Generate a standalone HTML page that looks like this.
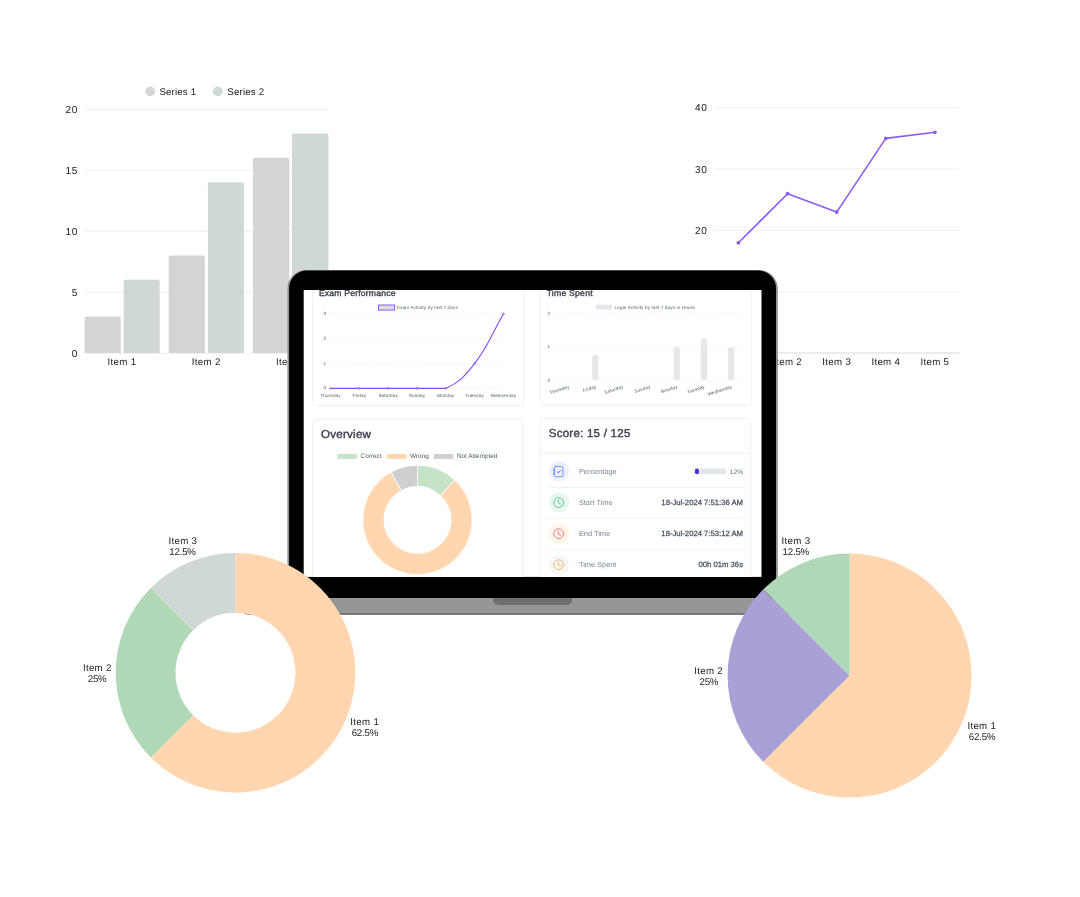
<!DOCTYPE html>
<html lang="en">
<head>
<meta charset="utf-8">
<title>Exam Dashboard Charts</title>
<style>
  html, body { margin: 0; padding: 0; background: #ffffff; }
  body { width: 1080px; height: 897px; overflow: hidden; position: relative; }
  svg { position: absolute; left: 0; top: 0; display: block; }
  text { font-family: "Liberation Sans", sans-serif; text-rendering: geometricPrecision; }
  .ax { font-size: 10.1px; fill: #1a1a1a; letter-spacing: 0.6px; }
  .lg { font-size: 9.7px; fill: #1a1a1a; letter-spacing: 0.17px; }
  .pl { font-size: 9.7px; fill: #1a1a1a; text-anchor: middle; letter-spacing: 0.32px; }
  .t5 { font-size: 4.55px; fill: #4b5566; letter-spacing: 0.17px; }
  .xl { font-size: 9.7px; fill: #1a1a1a; letter-spacing: 0.32px; }
  .pp { font-size: 9.7px; letter-spacing: -0.2px; }
  .t6 { font-size: 6.4px; fill: #4f5e5f; }
  .rl { font-size: 7.4px; fill: #7b8794; }
  .rv { font-size: 7.7px; fill: #4a5565; stroke: #4a5565; stroke-width: 0.28px; text-anchor: end; }
</style>
</head>
<body>
<svg width="1080" height="897" viewBox="0 0 1080 897">
  <defs>
    <clipPath id="scr"><rect x="303.7" y="290" width="457.8" height="286.9"/></clipPath>
  </defs>

  <!-- ================= BAR CHART (top-left) ================= -->
  <g id="barchart">
    <circle cx="150.15" cy="91.4" r="4.85" fill="#d4d4d4"/>
    <text class="lg" x="159.4" y="95">Series 1</text>
    <circle cx="217.8" cy="91.4" r="4.85" fill="#cfd8d7"/>
    <text class="lg" x="227.3" y="95">Series 2</text>

    <g stroke="#eeeeee" stroke-width="1">
      <line x1="85" x2="329" y1="109.2" y2="109.2"/>
      <line x1="85" x2="329" y1="170.2" y2="170.2"/>
      <line x1="85" x2="329" y1="231.2" y2="231.2"/>
      <line x1="85" x2="329" y1="292.2" y2="292.2"/>
      <line x1="85" x2="329" y1="353.2" y2="353.2"/>
    </g>
    <g class="ax" text-anchor="end">
      <text x="78" y="113.2">20</text>
      <text x="78" y="174.2">15</text>
      <text x="78" y="235.2">10</text>
      <text x="78" y="296.2">5</text>
      <text x="78" y="357.2">0</text>
    </g>
    <g fill="#d4d4d4">
      <path d="M84.7 353V318.4a2 2 0 0 1 2-2h32a2 2 0 0 1 2 2V353z"/>
      <path d="M168.8 353V257.4a2 2 0 0 1 2-2h32a2 2 0 0 1 2 2V353z"/>
      <path d="M253 353V159.8a2 2 0 0 1 2-2h32.3a2 2 0 0 1 2 2V353z"/>
    </g>
    <g fill="#cfd8d7">
      <path d="M123.7 353V281.8a2 2 0 0 1 2-2h32a2 2 0 0 1 2 2V353z"/>
      <path d="M207.9 353V184.2a2 2 0 0 1 2-2h32a2 2 0 0 1 2 2V353z"/>
      <path d="M292 353V135.4a2 2 0 0 1 2-2h32.4a2 2 0 0 1 2 2V353z"/>
    </g>
    <g class="xl" text-anchor="middle">
      <text x="122" y="365.2">Item 1</text>
      <text x="206.2" y="365.2">Item 2</text>
      <text x="290.5" y="365.2">Item 3</text>
    </g>
  </g>

  <!-- ================= LINE CHART (top-right) ================= -->
  <g id="linechart">
    <g stroke="#eeeeee" stroke-width="1">
      <line x1="714.3" x2="959.5" y1="107.7" y2="107.7"/>
      <line x1="714.3" x2="959.5" y1="169.1" y2="169.1"/>
      <line x1="714.3" x2="959.5" y1="230.5" y2="230.5"/>
      <line x1="714.3" x2="959.5" y1="291.9" y2="291.9"/>
    </g>
    <line x1="714.3" x2="959.5" y1="353" y2="353" stroke="#d9d9d9" stroke-width="1"/>
    <g class="ax" text-anchor="end">
      <text x="707.5" y="111.3">40</text>
      <text x="707.5" y="172.9">30</text>
      <text x="707.5" y="234.3">20</text>
      <text x="707.5" y="295.7">10</text>
      <text x="707.5" y="357">0</text>
    </g>
    <polyline points="738.4,242.8 787.6,193.7 836.7,212.1 885.8,138.4 934.9,132.3" fill="none" stroke="#8b5cf6" stroke-width="1.6" stroke-linejoin="round" stroke-linecap="round"/>
    <g fill="#8b5cf6">
      <circle cx="738.4" cy="242.8" r="1.9"/>
      <circle cx="787.6" cy="193.7" r="1.9"/>
      <circle cx="836.7" cy="212.1" r="1.9"/>
      <circle cx="885.8" cy="138.4" r="1.9"/>
      <circle cx="934.9" cy="132.3" r="1.9"/>
    </g>
    <g class="xl" text-anchor="middle">
      <text x="738.4" y="365.2">Item 1</text>
      <text x="787.6" y="365.2">Item 2</text>
      <text x="836.7" y="365.2">Item 3</text>
      <text x="885.8" y="365.2">Item 4</text>
      <text x="934.9" y="365.2">Item 5</text>
    </g>
  </g>

  <!-- ================= LAPTOP ================= -->
  <g id="laptop">
    <!-- base -->
    <rect x="244" y="597" width="577" height="17.8" fill="#969696"/>
    <rect x="244" y="613" width="577" height="1.8" fill="#767676"/>
    <path d="M493 597h79v3a5 5 0 0 1-5 5h-69a5 5 0 0 1-5-5z" fill="#6e6e6e"/>
    <!-- lid -->
    <path d="M287.4 598.1V288.6a18.5 18.5 0 0 1 18.5-18.5H759.3a18.5 18.5 0 0 1 18.5 18.5V598.1z" fill="#909090"/>
    <path d="M289.1 598.1V288.4a17.9 17.9 0 0 1 17.9-17.9H758.1a17.9 17.9 0 0 1 17.9 17.9V598.1z" fill="#000000"/>
    <rect x="303.7" y="290" width="457.8" height="286.9" fill="#ffffff"/>
    <g id="screen" clip-path="url(#scr)">
      <!-- card 1: Exam Performance -->
      <rect x="312.6" y="270" width="211" height="135.6" rx="3" fill="#ffffff" stroke="#ececef" stroke-width="0.8"/>
      <text x="318.9" y="296" font-size="8.6" letter-spacing="0.2" fill="#3f4254" stroke="#3f4254" stroke-width="0.36">Exam Performance</text>
      <rect x="378.5" y="305" width="16.2" height="5.1" fill="#dddddd" stroke="#7c4dff" stroke-width="0.9"/>
      <text class="t5" x="397" y="308.8">Exam Activity by last 7 days</text>
      <g stroke="#e4e6eb" stroke-width="0.6" stroke-dasharray="1.6 2.2">
        <line x1="327.5" x2="504.2" y1="313.9" y2="313.9"/>
        <line x1="327.5" x2="504.2" y1="338.75" y2="338.75"/>
        <line x1="327.5" x2="504.2" y1="363.6" y2="363.6"/>
        <line x1="327.5" x2="504.2" y1="388.4" y2="388.4"/>
      </g>
      <g class="t5" text-anchor="end">
        <text x="326.3" y="314.9">3</text>
        <text x="326.3" y="339.7">2</text>
        <text x="326.3" y="364.6">1</text>
        <text x="326.3" y="389.4">0</text>
      </g>
      <path d="M330.6 388.4H445.8C458.9 382.8 465.4 375.4 474.6 363.6C488.5 345.7 491.9 333.7 503.5 313.8" fill="none" stroke="#7c4dff" stroke-width="1.1" stroke-linecap="round"/>
      <g fill="#bfaaff" stroke="#7c4dff" stroke-width="0.6">
        <circle cx="330.6" cy="388.4" r="0.9"/><circle cx="359.4" cy="388.4" r="0.9"/><circle cx="388.2" cy="388.4" r="0.9"/>
        <circle cx="417" cy="388.4" r="0.9"/><circle cx="445.8" cy="388.4" r="0.9"/><circle cx="474.6" cy="363.6" r="0.9"/><circle cx="503.5" cy="313.8" r="0.9"/>
      </g>
      <g class="t5" text-anchor="middle">
        <text x="330.6" y="396.9">Thursday</text>
        <text x="359.4" y="396.9">Friday</text>
        <text x="388.2" y="396.9">Saturday</text>
        <text x="417" y="396.9">Sunday</text>
        <text x="445.8" y="396.9">Monday</text>
        <text x="474.6" y="396.9">Tuesday</text>
        <text x="503.5" y="396.9">Wednesday</text>
      </g>

      <!-- card 2: Time Spent -->
      <rect x="540.6" y="270" width="210.3" height="135.3" rx="3" fill="#ffffff" stroke="#ececef" stroke-width="0.8"/>
      <text x="546.7" y="295.8" font-size="8.7" letter-spacing="0.2" fill="#3f4254" stroke="#3f4254" stroke-width="0.36">Time Spent</text>
      <rect x="596" y="304.6" width="16" height="4.8" fill="#e5e7eb"/>
      <text class="t5" x="614.6" y="308.6">Login Activity by last 7 days in Hours</text>
      <g stroke="#e4e6eb" stroke-width="0.6" stroke-dasharray="1.6 2.2">
        <line x1="552.4" x2="745.6" y1="313.7" y2="313.7"/>
        <line x1="552.4" x2="745.6" y1="347" y2="347"/>
        <line x1="552.4" x2="745.6" y1="380.3" y2="380.3"/>
      </g>
      <g class="t5" text-anchor="end">
        <text x="550.3" y="315">2</text>
        <text x="550.3" y="348.4">1</text>
        <text x="550.3" y="381.7">0</text>
      </g>
      <g fill="#e5e7eb">
        <rect x="592.1" y="355.1" width="6.5" height="24.9" rx="3.25"/>
        <rect x="673.5" y="346.9" width="6.5" height="33.1" rx="3.25"/>
        <rect x="700.7" y="338.6" width="6.5" height="41.4" rx="3.25"/>
        <rect x="727.9" y="346.9" width="6.5" height="33.1" rx="3.25"/>
      </g>
      <g class="t5" text-anchor="end">
        <text transform="translate(569.5 387.9) rotate(-18)">Thursday</text>
        <text transform="translate(596.6 387.9) rotate(-18)">Friday</text>
        <text transform="translate(623.7 387.9) rotate(-18)">Saturday</text>
        <text transform="translate(650.8 387.9) rotate(-18)">Sunday</text>
        <text transform="translate(678 387.9) rotate(-18)">Monday</text>
        <text transform="translate(705.2 387.9) rotate(-18)">Tuesday</text>
        <text transform="translate(732.4 387.9) rotate(-18)">Wednesday</text>
      </g>

      <!-- card 3: Overview -->
      <rect x="312.6" y="419.4" width="210.6" height="180" rx="3" fill="#ffffff" stroke="#ececef" stroke-width="0.8"/>
      <text x="320.9" y="437.7" font-size="11.6" letter-spacing="0.25" fill="#3f4254" stroke="#3f4254" stroke-width="0.42">Overview</text>
      <rect x="337.3" y="454" width="19.5" height="4.9" fill="#c5e3c6"/>
      <text class="t6" x="360.6" y="457.9">Correct</text>
      <rect x="387.1" y="454" width="19.3" height="4.9" fill="#ffd6b0"/>
      <text class="t6" x="410" y="457.9">Wrong</text>
      <rect x="434" y="454" width="19.3" height="4.9" fill="#cfcfcf"/>
      <text class="t6" x="456.9" y="457.9">Not Attempted</text>
      <g stroke="#ffffff" stroke-width="0.8" stroke-linejoin="round">
      <path d="M417.50 465.30A54.6 54.6 0 0 1 454.88 480.10L440.50 495.41A33.6 33.6 0 0 0 417.50 486.30Z" fill="#c5e3c6"/>
      <path d="M454.88 480.10A54.6 54.6 0 1 1 391.20 472.05L401.31 490.46A33.6 33.6 0 1 0 440.50 495.41Z" fill="#ffd6b0"/>
      <path d="M391.20 472.05A54.6 54.6 0 0 1 417.50 465.30L417.50 486.30A33.6 33.6 0 0 0 401.31 490.46Z" fill="#cfcfcf"/>
      </g>

      <!-- card 4: Score -->
      <rect x="540.1" y="418.4" width="210.6" height="180" rx="3" fill="#ffffff" stroke="#ececef" stroke-width="0.8"/>
      <text x="548.8" y="436.5" font-size="11.5" letter-spacing="0.25" fill="#3f4254" stroke="#3f4254" stroke-width="0.42">Score: 15 / 125</text>
      <line x1="540.1" x2="750.7" y1="453.3" y2="453.3" stroke="#ececef" stroke-width="0.8"/>
      <g stroke="#e8eaf2" stroke-width="0.6">
        <line x1="548.8" x2="743" y1="487.5" y2="487.5"/>
        <line x1="548.8" x2="743" y1="518.4" y2="518.4"/>
        <line x1="548.8" x2="743" y1="549.3" y2="549.3"/>
      </g>
      <!-- row 1 -->
      <circle cx="558.9" cy="471.4" r="10.1" fill="#eaf0ff"/>
      <g fill="none" stroke="#4c6ef5" stroke-width="0.7" stroke-linejoin="round" stroke-linecap="round">
        <rect x="554.4" y="466.4" width="8.5" height="10.3" rx="1.2"/>
        <path d="M557.2 471.9l1.3 0.8 1.9-2" stroke="#5b55ee" stroke-width="1"/>
        <path d="M553.8 469.6v1.2M553.8 473v1.2" stroke-width="0.9"/>
      </g>
      <text class="rl" x="578.9" y="473.8">Percentage</text>
      <rect x="694.9" y="468.5" width="31.3" height="5.8" rx="2.9" fill="#e2e5ea"/>
      <rect x="694.9" y="468.5" width="4" height="5.8" rx="2" fill="#4b2fd6"/>
      <text x="743" y="473.8" font-size="6.6" fill="#5f6b7a" text-anchor="end">12%</text>
      <!-- row 2 -->
      <circle cx="558.9" cy="502.4" r="10.1" fill="#e8f8ef"/>
      <g fill="none" stroke="#4cc182" stroke-width="0.85" stroke-linecap="round" stroke-linejoin="round">
        <circle cx="558.7" cy="502.6" r="4.9"/>
        <path d="M558.4 500.0v2.8l2.4 1.4"/>
      </g>
      <text class="rl" x="578.9" y="504.8">Start Time</text>
      <text class="rv" x="743" y="504.8">18-Jul-2024 7:51:36 AM</text>
      <!-- row 3 -->
      <circle cx="558.9" cy="533.5" r="10.1" fill="#fff5e6"/>
      <g fill="none" stroke="#f0648a" stroke-width="0.85" stroke-linecap="round" stroke-linejoin="round">
        <circle cx="558.7" cy="533.7" r="4.9"/>
        <path d="M558.4 531.1v2.8l2.4 1.4"/>
      </g>
      <text class="rl" x="578.9" y="535.9">End Time</text>
      <text class="rv" x="743" y="535.9">18-Jul-2024 7:53:12 AM</text>
      <!-- row 4 -->
      <circle cx="558.9" cy="564.6" r="10.1" fill="#f6f6f7"/>
      <g fill="none" stroke="#f6ad55" stroke-width="0.85" stroke-linecap="round" stroke-linejoin="round">
        <circle cx="558.7" cy="564.8" r="4.9"/>
        <path d="M558.4 562.2v2.8l2.4 1.4"/>
      </g>
      <text class="rl" x="578.9" y="567">Time Spent</text>
      <text class="rv" x="743" y="567">00h 01m 36s</text>

    </g>
  </g>

  <!-- ================= DONUT (bottom-left) ================= -->
  <g id="donut">
    <circle cx="235.5" cy="672.7" r="59.4" fill="#ffffff"/>
    <path d="M235.50 552.90A119.8 119.8 0 1 1 150.79 757.41L193.07 715.13A60 60 0 1 0 235.50 612.70Z" fill="#ffd6b0"/>
    <path d="M150.79 757.41A119.8 119.8 0 0 1 150.79 587.99L193.07 630.27A60 60 0 0 0 193.07 715.13Z" fill="#b0d8b6"/>
    <path d="M150.79 587.99A119.8 119.8 0 0 1 235.50 552.90L235.50 612.70A60 60 0 0 0 193.07 630.27Z" fill="#cfd8d7"/>
    <text class="pl" x="182.9" y="544">Item 3</text>
    <text class="pl pp" x="182.55" y="555">12.5%</text>
    <text class="pl" x="97.3" y="671">Item 2</text>
    <text class="pl pp" x="97.1" y="682">25%</text>
    <text class="pl" x="364.7" y="725">Item 1</text>
    <text class="pl pp" x="364.9" y="736">62.5%</text>
  </g>

  <!-- ================= PIE (bottom-right) ================= -->
  <g id="pie">
    <path d="M849.6 675.6L849.60 553.60A122 122 0 1 1 763.33 761.87Z" fill="#ffd6b0"/>
    <path d="M849.6 675.6L763.33 761.87A122 122 0 0 1 763.33 589.33Z" fill="#a9a1d6"/>
    <path d="M849.6 675.6L763.33 589.33A122 122 0 0 1 849.60 553.60Z" fill="#b0d8b6"/>
    <text class="pl" x="796.0" y="544">Item 3</text>
    <text class="pl pp" x="795.8" y="555">12.5%</text>
    <text class="pl" x="708.6" y="674">Item 2</text>
    <text class="pl pp" x="708.85" y="685">25%</text>
    <text class="pl" x="981.8" y="729">Item 1</text>
    <text class="pl pp" x="982.1" y="740">62.5%</text>
  </g>
</svg>
</body>
</html>
